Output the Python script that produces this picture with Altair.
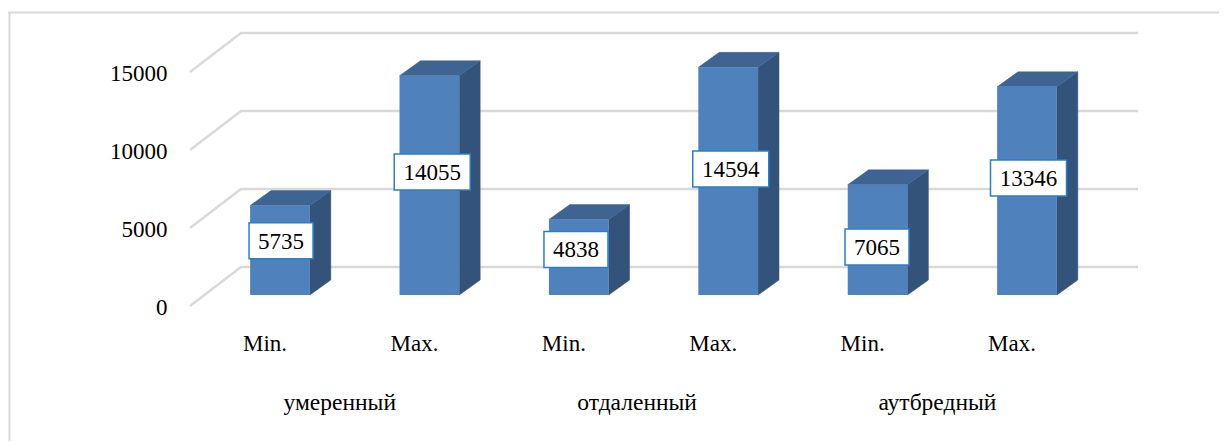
import altair as alt
import pandas as pd

# ---- values
groups = ["умеренный", "отдаленный", "аутбредный"]
group_pos = [0.40, 2.39, 4.40]
bar_labels = ["Min.", "Max.", "Min.", "Max.", "Min.", "Max."]
values = [5735, 14055, 4838, 14594, 7065, 13346]
label_levels = [4186, 8590, 3622, 8782, 3782, 8205]
label_shift = [0.007, 0.019, -0.019, 0.017, -0.004, 0.01]
ticks = [0, 5000, 10000, 15000]

# ---- geometry of the false 3D, in data units
BASE = 705
HALF = 0.2
DX = 0.14
DY = 960
WALL_DY = 2500
FONT = "Liberation Serif"
W, H = 1211, 433
X_DOMAIN = [-1.8206, 6.2851]
Y_DOMAIN = [-8654, 19103]

x_s = alt.Scale(domain=X_DOMAIN, nice=False, zero=False)
y_s = alt.Scale(domain=Y_DOMAIN, nice=False, zero=False)
y_axis = alt.Axis(
    values=ticks, title=None, domain=False, ticks=False, grid=False,
    labelPadding=-159, labelFont=FONT, labelFontSize=23, labelAlign="right",
    labelColor="black", labelBaseline="middle", format="d", labelOverlap=False,
    labelOffset=1,
)
X = lambda f="x": alt.X(f"{f}:Q", scale=x_s, axis=None)
Y = lambda f="y": alt.Y(f"{f}:Q", scale=y_s, axis=y_axis)

grid_rows = []
for t in ticks:
    grid_rows += [
        dict(g=t, o=0, x=-0.6024, y=t),
        dict(g=t, o=1, x=-0.261, y=t + WALL_DY),
        dict(g=t, o=2, x=5.743, y=t + WALL_DY),
    ]
grid = alt.Chart(pd.DataFrame(grid_rows)).mark_line(color="#d9d9d9", strokeWidth=2.3).encode(
    x=X(), y=Y(), detail="g:N", order="o:Q"
)

front_rows, side_rows, top_rows = [], [], []
for i, v in enumerate(values):
    L, R, t = i - HALF, i + HALF, v + BASE
    front_rows.append(dict(x=L, x2=R, y=BASE, y2=t))
    side_rows += [
        dict(b=i, x=R, y=t, y2=BASE),
        dict(b=i, x=R + DX, y=t + DY, y2=BASE + DY),
    ]
    top_rows += [
        dict(b=i, x=L, y=t, y2=t),
        dict(b=i, x=L + DX, y=t + DY, y2=t),
        dict(b=i, x=R, y=t + DY, y2=t),
        dict(b=i, x=R + DX, y=t + DY, y2=t + DY),
    ]

side = alt.Chart(pd.DataFrame(side_rows)).mark_area(color="#33537b", stroke="#33537b", strokeWidth=0.5).encode(
    x=X(), y=Y(), y2="y2:Q", detail="b:N"
)
top = alt.Chart(pd.DataFrame(top_rows)).mark_area(color="#3f6492", stroke="#3f6492", strokeWidth=0.5).encode(
    x=X(), y=Y(), y2="y2:Q", detail="b:N"
)
front = alt.Chart(pd.DataFrame(front_rows)).mark_rect(color="#4f81bd").encode(
    x=X(), x2="x2:Q", y=Y(), y2="y2:Q"
)

lab = pd.DataFrame({
    "x": [i + s for i, s in enumerate(label_shift)],
    "y": label_levels,
    "v": [str(v) for v in values],
})
lab4 = lab[lab["v"].str.len() == 4]
lab5 = lab[lab["v"].str.len() == 5]
box4 = alt.Chart(lab4).mark_rect(
    fill="white", stroke="#2e7fc2", strokeWidth=1.5, width=64, height=36
).encode(x=X(), y=Y())
box5 = alt.Chart(lab5).mark_rect(
    fill="white", stroke="#2e7fc2", strokeWidth=1.5, width=76, height=36
).encode(x=X(), y=Y())
val_text = alt.Chart(lab).mark_text(font=FONT, fontSize=23, color="black", dy=1).encode(
    x=X(), y=Y(), text="v:N"
)

cat = pd.DataFrame({"x": [i - 0.1 for i in range(6)], "t": bar_labels, "y": [-2440] * 6})
cat_text = alt.Chart(cat).mark_text(font=FONT, fontSize=23, color="black").encode(
    x=X(), y=Y(), text="t:N"
)

grp = pd.DataFrame({"x": group_pos, "t": groups, "y": [-6220] * 3})
grp_text = alt.Chart(grp).mark_text(font=FONT, fontSize=23.5, color="black").encode(
    x=X(), y=Y(), text="t:N"
)

frame_top = alt.Chart(pd.DataFrame({"a": [0]})).mark_rule(color="#d9d9d9", strokeWidth=2).encode(
    x=alt.value(0), x2=alt.value(W), y=alt.value(4.5)
)
frame_left = alt.Chart(pd.DataFrame({"a": [0]})).mark_rule(color="#d9d9d9", strokeWidth=2).encode(
    x=alt.value(1.5), y=alt.value(4), y2=alt.value(H)
)

chart = alt.layer(
    frame_top, frame_left, grid, side, top, front, box4, box5, val_text, cat_text, grp_text
).properties(
    width=W, height=H, padding=0, background="white",
    autosize=alt.AutoSizeParams(type="none"),
).configure_view(stroke=None)

chart.save("out.html", embed_options={"renderer": "svg", "actions": False})
